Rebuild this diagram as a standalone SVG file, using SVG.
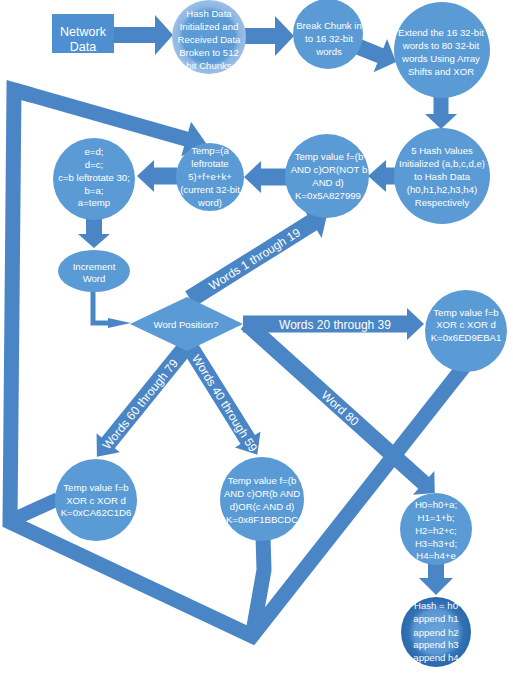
<svg xmlns="http://www.w3.org/2000/svg" width="513" height="675" viewBox="0 0 513 675">
  <style>
    .arrow { fill: #4a86c5; }
    .band { fill: none; stroke: #4a86c5; stroke-linejoin: miter; }
    .node { fill: #5b9bd5; }
    .txt { font-family: "Liberation Sans", Arial, sans-serif; font-size: 9.6px; fill: #ffffff; text-anchor: middle; }
    .lbl { font-family: "Liberation Sans", Arial, sans-serif; font-size: 12px; fill: #ffffff; text-anchor: middle; }
  </style>
  <defs>
    <radialGradient id="ringLight" cx="0.5" cy="0.5" r="0.5">
      <stop offset="0" stop-color="#5d9cd6"/>
      <stop offset="0.7" stop-color="#5b9bd5"/>
      <stop offset="0.82" stop-color="#8cb5e2"/>
      <stop offset="1" stop-color="#9cc0e7"/>
    </radialGradient>
    <radialGradient id="ringDark" cx="0.5" cy="0.5" r="0.5">
      <stop offset="0" stop-color="#6aa3da"/>
      <stop offset="0.62" stop-color="#5a97d2"/>
      <stop offset="0.78" stop-color="#3173b6"/>
      <stop offset="1" stop-color="#2a67aa"/>
    </radialGradient>
  </defs>
  <rect width="513" height="675" fill="#ffffff"/>

  <!-- connectors -->
  <g id="connectors">
    <!-- straight block arrows -->
    <g transform="translate(113,35)"><polygon class="arrow" points="0,-8 42,-8 42,-20 60,0 42,20 42,8 0,8"/></g>
    <g transform="translate(245,36)"><polygon class="arrow" points="0,-8 30,-8 30,-20 49,0 30,20 30,8 0,8"/></g>
    <g transform="translate(359,47) rotate(22)"><polygon class="arrow" points="0,-8 23,-8 23,-18 40,0 23,18 23,8 0,8"/></g>
    <g transform="translate(441,96) rotate(90)"><polygon class="arrow" points="0,-7.5 18,-7.5 18,-16 33,0 18,16 18,7.5 0,7.5"/></g>
    <g transform="translate(396,176) rotate(180)"><polygon class="arrow" points="0,-8.5 10,-8.5 10,-16 28,0 10,16 10,8.5 0,8.5"/></g>
    <g transform="translate(287,177) rotate(180)"><polygon class="arrow" points="0,-8.5 26,-8.5 26,-16 43,0 26,16 26,8.5 0,8.5"/></g>
    <g transform="translate(177,176) rotate(180)"><polygon class="arrow" points="0,-8.5 23,-8.5 23,-16 40,0 23,16 23,8.5 0,8.5"/></g>
    <g transform="translate(94,217) rotate(90)"><polygon class="arrow" points="0,-8 17,-8 17,-16 31,0 17,16 17,8 0,8"/></g>
    <g transform="translate(436,563) rotate(90)"><polygon class="arrow" points="0,-8 15,-8 15,-17 32,0 15,17 15,8 0,8"/></g>

    <!-- Increment Word to Word Position? -->
    <path d="M93,291 V323 H112" fill="none" stroke="#4a86c5" stroke-width="5"/>
    <polygon class="arrow" points="108,318 131,323 108,328"/>

    <!-- loop back to the Temp step -->
    <polyline class="band" stroke-width="15" points="466,364 252,636 10,522 14,90 33,95.5"/>
    <g transform="translate(14,90) rotate(15.9)"><polygon class="arrow" points="0,-7.5 179,-7.5 179,-18 201,0 179,18 179,7.5 0,7.5"/></g>
    <polyline class="band" stroke-width="15" points="263,536 264,570 253,632"/>
    <polyline class="band" stroke-width="14" points="58,499 12,520"/>

    <!-- labelled branches from Word Position? -->
    <g transform="translate(190,299) rotate(-32)">
      <polygon class="arrow" points="0,-9 144,-9 144,-18 162,0 144,18 144,9 0,9"/>
      <text class="lbl" x="76" y="4.5">Words 1 through 19</text>
    </g>
    <g transform="translate(243,324)">
      <polygon class="arrow" points="0,-8.5 164,-8.5 164,-16 181,0 164,16 164,8.5 0,8.5"/>
      <text class="lbl" x="92" y="4.5">Words 20 through 39</text>
    </g>
    <g transform="translate(246,323) rotate(42)">
      <polygon class="arrow" points="0,-8 239,-8 239,-16 254,0 239,16 239,8 0,8"/>
      <text class="lbl" x="127" y="4.5">Word 80</text>
    </g>
    <g transform="translate(190,347) rotate(58)">
      <polygon class="arrow" points="0,-8.5 109,-8.5 109,-15 127,0 109,15 109,8.5 0,8.5"/>
      <text class="lbl" x="66" y="4.5">Words 40 through 59</text>
    </g>
    <g transform="translate(185,348) rotate(129)">
      <polygon class="arrow" points="0,-8.5 122,-8.5 122,-15 140,0 122,15 122,8.5 0,8.5"/>
    </g>
    <text class="lbl" transform="translate(140,404) rotate(-51)" x="0" y="4.5">Words 60 through 79</text>
  </g>

  <!-- nodes -->
  <g id="network-data">
    <rect x="52" y="14" width="62" height="39" fill="#4e8fd2"/>
    <text class="txt" style="font-size:12.5px" x="83" y="35.5">Network</text>
    <text class="txt" style="font-size:12.5px" x="83" y="50.5">Data</text>
  </g>

  <g id="hash-init">
    <circle cx="209" cy="37" r="37" fill="url(#ringLight)"/>
    <text class="txt" x="209" y="16.5">Hash Data</text>
    <text class="txt" x="209" y="29.5">Initialized and</text>
    <text class="txt" x="209" y="42.5">Received Data</text>
    <text class="txt" x="209" y="55.5">Broken to 512</text>
    <text class="txt" x="209" y="68.5">bit Chunks</text>
  </g>

  <g id="break-chunk">
    <circle class="node" cx="328" cy="34" r="35"/>
    <text class="txt" x="329" y="28.5">Break Chunk in</text>
    <text class="txt" x="329" y="41.5">to 16 32-bit</text>
    <text class="txt" x="329" y="55">words</text>
  </g>

  <g id="extend-words">
    <circle class="node" cx="442" cy="50" r="48"/>
    <text class="txt" x="441" y="35.5">Extend the 16 32-bit</text>
    <text class="txt" x="441" y="48.5">words to 80 32-bit</text>
    <text class="txt" x="441" y="61.5">words Using Array</text>
    <text class="txt" x="441" y="74.5">Shifts and XOR</text>
  </g>

  <g id="hash-values">
    <circle class="node" cx="442" cy="176" r="48"/>
    <text class="txt" x="442" y="154">5 Hash Values</text>
    <text class="txt" x="442" y="167">Initialized (a,b,c,d,e)</text>
    <text class="txt" x="442" y="180">to Hash Data</text>
    <text class="txt" x="442" y="193">(h0,h1,h2,h3,h4)</text>
    <text class="txt" x="442" y="205.5">Respectively</text>
  </g>

  <g id="f-words-1-19">
    <circle class="node" cx="327" cy="176" r="42"/>
    <text class="txt" x="329" y="160">Temp value f=(b</text>
    <text class="txt" x="329" y="173">AND c)OR(NOT b</text>
    <text class="txt" x="328" y="186">AND d)</text>
    <text class="txt" x="328" y="199">K=0x5A827999</text>
  </g>

  <g id="temp-calc">
    <circle class="node" cx="210" cy="177" r="34"/>
    <text class="txt" x="210" y="153.5">Temp=(a</text>
    <text class="txt" x="210" y="166.5">leftrotate</text>
    <text class="txt" x="210" y="179.5">5)+f+e+k+</text>
    <text class="txt" x="210" y="192.5">(current 32-bit</text>
    <text class="txt" x="210" y="205.5">word)</text>
  </g>

  <g id="rotate-vars">
    <circle class="node" cx="94" cy="179" r="41"/>
    <text class="txt" x="94" y="154.5">e=d;</text>
    <text class="txt" x="94" y="167.5">d=c;</text>
    <text class="txt" x="94" y="180.5">c=b leftrotate 30;</text>
    <text class="txt" x="94" y="193.5">b=a;</text>
    <text class="txt" x="94" y="206">a=temp</text>
  </g>

  <g id="increment-word">
    <ellipse class="node" cx="94" cy="271" rx="36" ry="21"/>
    <text class="txt" x="94" y="270">Increment</text>
    <text class="txt" x="94" y="282">Word</text>
  </g>

  <g id="word-position">
    <polygon class="node" points="130,324 187,297 243,324 187,351"/>
    <text class="txt" x="186" y="328">Word Position?</text>
  </g>

  <g id="f-words-20-39">
    <circle class="node" cx="466" cy="331" r="41"/>
    <text class="txt" x="466" y="315.5">Temp value f=b</text>
    <text class="txt" x="466" y="328">XOR c XOR d</text>
    <text class="txt" x="466" y="340.5">K=0x6ED9EBA1</text>
  </g>

  <g id="f-words-60-79">
    <circle class="node" cx="96" cy="500" r="41"/>
    <text class="txt" x="96" y="490.5">Temp value f=b</text>
    <text class="txt" x="96" y="503.5">XOR c XOR d</text>
    <text class="txt" x="96" y="515.5">K=0xCA62C1D6</text>
  </g>

  <g id="f-words-40-59">
    <circle class="node" cx="262" cy="499" r="42"/>
    <text class="txt" x="262" y="483.5">Temp value f=(b</text>
    <text class="txt" x="262" y="496.5">AND c)OR(b AND</text>
    <text class="txt" x="262" y="509.5">d)OR(c AND d)</text>
    <text class="txt" x="262" y="522.5">K=0x8F1BBCDC</text>
  </g>

  <g id="update-hash">
    <circle class="node" cx="436" cy="529" r="36"/>
    <text class="txt" x="436" y="507.5">H0=h0+a;</text>
    <text class="txt" x="436" y="520.5">H1=1+b;</text>
    <text class="txt" x="436" y="533.5">H2=h2+c;</text>
    <text class="txt" x="436" y="546.5">H3=h3+d;</text>
    <text class="txt" x="436" y="558.5">H4=h4+e</text>
  </g>

  <g id="final-hash">
    <circle cx="436" cy="632" r="35" fill="url(#ringDark)"/>
    <text class="txt" x="436" y="608.5">Hash = h0</text>
    <text class="txt" x="436" y="621.5">append h1</text>
    <text class="txt" x="436" y="635.5">append h2</text>
    <text class="txt" x="436" y="647.5">append h3</text>
    <text class="txt" x="436" y="660.5">append h4</text>
  </g>
</svg>
